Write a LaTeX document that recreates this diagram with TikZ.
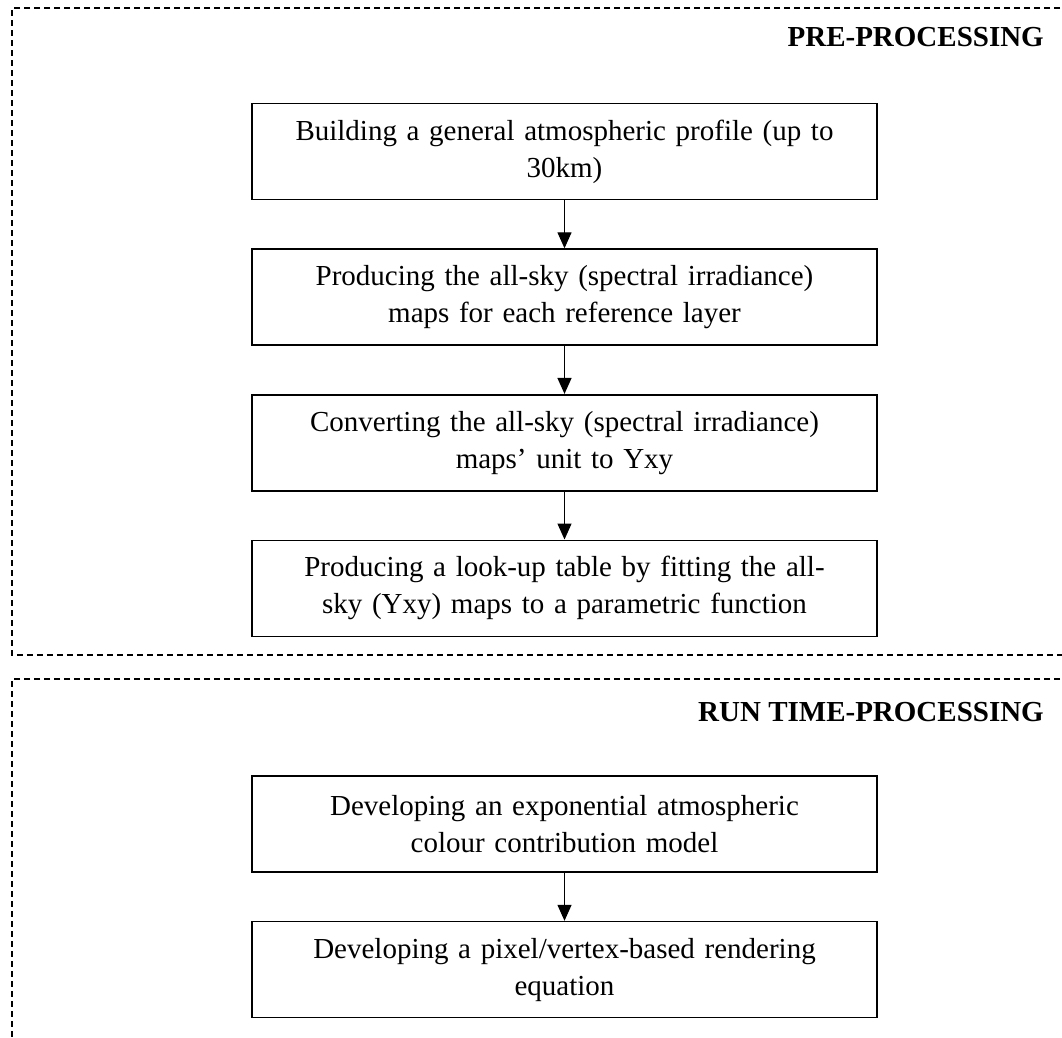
\documentclass[tikz,border=0pt]{standalone}
\usepackage{fontspec}
\setmainfont{Liberation Serif}
\usepackage{tikz}
\usetikzlibrary{arrows.meta}
\usetikzlibrary{positioning}
\tikzstyle{block} = [rectangle, draw, line width=1.6pt, font=\fontsize{29}{37}\selectfont,
    text width=600pt, align=center, minimum height=96pt, minimum width=625pt, inner sep=0pt]
\tikzstyle{line} = [draw, line width=1.3pt, -{Triangle[length=16pt,width=14pt]}]
\tikzstyle{frame} = [draw, line width=1.6pt, dash pattern=on 6pt off 4pt]
\tikzstyle{heading} = [font=\fontsize{29}{35}\selectfont\bfseries, anchor=base east, inner sep=0pt]

\begin{document}
\begin{tikzpicture}[x=1pt, y=-1pt, node distance = 48pt]
    \useasboundingbox (0,0) rectangle (1062,1037);
    % Frames
    \path [frame] (1070,8) -- (12,8) -- (12,655) -- (1070,655);
    \path [frame] (1070,679) -- (12,679) -- (12,1045);
    \node [heading] (pre) at (1044,46) {PRE-PROCESSING};
    \node [heading] (run) at (1044,721) {RUN TIME-PROCESSING};

    % Place nodes
    \node [block] (profile) at (564.5,151.5) {Building a general atmospheric profile (up to\\30km)};
    \node [block, below=of profile] (allsky) {Producing the all-sky (spectral irradiance)\\maps for each reference layer};
    \node [block, below=of allsky] (convert) {Converting the all-sky (spectral irradiance)\\maps' unit to Yxy};
    \node [block, below=of convert] (lookup) {Producing a look-up table by fitting the all-\\sky (Yxy) maps to a parametric function};

    \node [block] (expmodel) at (564.5,824) {Developing an exponential atmospheric\\colour contribution model};
    \node [block, below=of expmodel] (render) {Developing a pixel/vertex-based rendering\\equation};

    % Draw edges
    \path [line] (profile) -- (allsky);
    \path [line] (allsky) -- (convert);
    \path [line] (convert) -- (lookup);
    \path [line] (expmodel) -- (render);
\end{tikzpicture}
\end{document}
